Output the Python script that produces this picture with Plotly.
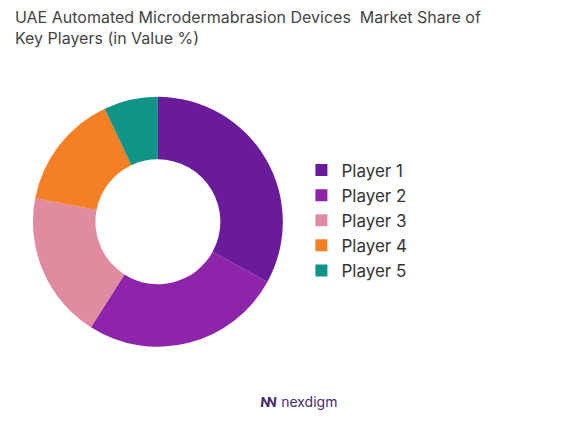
import plotly.graph_objects as go

players = ["Player 1", "Player 2", "Player 3", "Player 4", "Player 5"]
shares = [33, 26, 19, 15, 7]
colors = ["#6a1b9a", "#8e24aa", "#e08ba0", "#f57f25", "#0f9488"]

fig = go.Figure()
fig.add_trace(go.Pie(
    labels=players, values=shares, hole=0.5, sort=False, direction="clockwise",
    rotation=0, marker=dict(colors=colors), textinfo="none",
    domain=dict(x=[0.043, 0.473], y=[0.203, 0.791]),
))
fig.update_layout(
    width=581, height=425, margin=dict(l=0, r=0, t=0, b=0),
    paper_bgcolor="white", font=dict(family="Inter", color="#333"),
    title=dict(text="UAE Automated Microdermabrasion Devices  Market Share of<br>Key Players (in Value %)",
               x=0.012, xanchor="left", y=0.965, yanchor="top",
               font=dict(size=16, color="#444")),
    legend=dict(x=0.505, y=0.5, yanchor="middle", font=dict(size=17, color="#333"),
                itemwidth=30),
    annotations=[dict(text="<b>ꟿ</b> nexdigm", x=0.5, y=0.05, xref="paper", yref="paper",
                      showarrow=False, font=dict(size=14, color="#4a2a6a"))],
)
fig.write_html("out.html")
